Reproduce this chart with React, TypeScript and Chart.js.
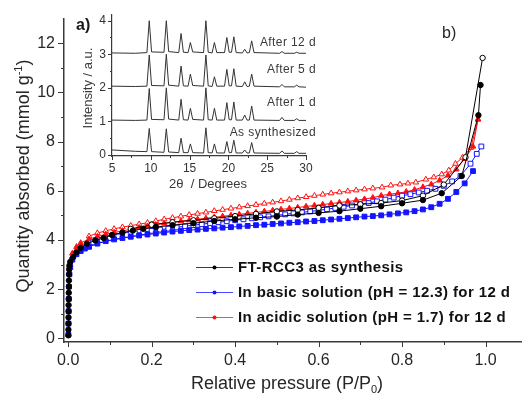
import React, { useEffect, useRef } from "react";
import { Chart, registerables } from "chart.js";
Chart.register(...registerables);

const W = 526;
const H = 394;
const FONT = "'Liberation Sans', Arial, sans-serif";

// ---------------- Main isotherm data ----------------
const blackAdsP = [0.0005, 0.0006, 0.0007, 0.0008, 0.0009, 0.001, 0.0012, 0.0014, 0.0016, 0.0018, 0.002, 0.0025, 0.003,
  0.005, 0.012, 0.02, 0.03, 0.045, 0.065, 0.085, 0.105, 0.13, 0.155, 0.18, 0.21, 0.25, 0.3, 0.35, 0.4, 0.45, 0.5,
  0.55, 0.6, 0.65, 0.7, 0.75, 0.8, 0.85, 0.895, 0.943, 0.983, 0.988];
const blackAdsQ = [0.12, 0.35, 0.6, 0.85, 1.1, 1.35, 1.6, 1.85, 2.1, 2.35, 2.6, 2.8, 2.95,
  3.1, 3.3, 3.5, 3.68, 3.85, 3.98, 4.08, 4.2, 4.3, 4.38, 4.45, 4.52, 4.6, 4.68, 4.77, 4.84, 4.9, 4.95,
  5.03, 5.1, 5.17, 5.27, 5.37, 5.49, 5.62, 5.9, 6.6, 9.07, 10.3];

const blackDesP = [0.993, 0.952, 0.9, 0.85, 0.8, 0.75, 0.7, 0.65, 0.6, 0.55, 0.5, 0.45, 0.4, 0.35, 0.3, 0.25, 0.2, 0.15];
const blackDesQ = [11.4, 7.36, 6.25, 5.8, 5.6, 5.5, 5.45, 5.4, 5.3, 5.22, 5.16, 5.06, 4.97, 4.88, 4.8, 4.72, 4.62, 4.45];

const blueAdsP = [0.0005, 0.0008, 0.0012, 0.0016, 0.002, 0.003, 0.005, 0.01, 0.02, 0.03, 0.04, 0.05,
  0.07, 0.09, 0.11, 0.13, 0.15, 0.17, 0.19, 0.21, 0.23, 0.25,
  0.27, 0.29, 0.31, 0.33, 0.35, 0.37, 0.39, 0.41, 0.43, 0.45,
  0.47, 0.49, 0.51, 0.53, 0.55, 0.57, 0.59, 0.61, 0.63, 0.65,
  0.67, 0.69, 0.71, 0.73, 0.75, 0.77, 0.79, 0.81, 0.83, 0.85,
  0.87, 0.89, 0.91, 0.93, 0.95, 0.97];
const blueAdsQ = [0.15, 0.6, 1.1, 1.6, 2.1, 2.6, 2.9, 3.2, 3.42, 3.55, 3.65, 3.72,
  3.85, 3.95, 4.02, 4.08, 4.13, 4.18, 4.22, 4.26, 4.3, 4.34,
  4.37, 4.4, 4.42, 4.45, 4.47, 4.5, 4.52, 4.55, 4.57, 4.6,
  4.62, 4.65, 4.67, 4.7, 4.72, 4.75, 4.77, 4.8, 4.83, 4.86,
  4.89, 4.92, 4.95, 4.97, 5.0, 5.04, 5.08, 5.12, 5.17, 5.24,
  5.33, 5.47, 5.67, 5.95, 6.3, 6.8];

const blueDesP = [0.99, 0.979, 0.964, 0.94,
  0.92, 0.9, 0.88, 0.86, 0.84, 0.82, 0.8, 0.78, 0.76, 0.74, 0.72, 0.7, 0.68, 0.66, 0.64, 0.62, 0.6,
  0.58, 0.56, 0.54, 0.52, 0.5, 0.48, 0.46, 0.44, 0.42, 0.4, 0.38, 0.36, 0.34, 0.32, 0.3,
  0.28, 0.26, 0.24, 0.22, 0.2, 0.18, 0.16, 0.14, 0.12, 0.1, 0.08, 0.06];
const blueDesQ = [7.8, 7.5, 7.1, 6.6,
  6.38, 6.2, 6.08, 6.0, 5.93, 5.86, 5.8, 5.72, 5.64, 5.57, 5.5, 5.45, 5.4, 5.35, 5.3, 5.25, 5.2,
  5.16, 5.12, 5.08, 5.04, 5.0, 4.96, 4.92, 4.88, 4.84, 4.8, 4.76, 4.72, 4.68, 4.64, 4.6,
  4.56, 4.51, 4.46, 4.42, 4.37, 4.32, 4.26, 4.2, 4.14, 4.07, 4.0, 3.9];

const redAdsP = [0.003, 0.006, 0.01, 0.02, 0.03, 0.05,
  0.07, 0.09, 0.11, 0.13, 0.15, 0.17, 0.19, 0.21, 0.23, 0.25,
  0.27, 0.29, 0.31, 0.33, 0.35, 0.37, 0.39, 0.41, 0.43, 0.45,
  0.47, 0.49, 0.51, 0.53, 0.55, 0.57, 0.59, 0.61, 0.63, 0.65,
  0.67, 0.69, 0.71, 0.73, 0.75, 0.77, 0.79, 0.81, 0.83, 0.85,
  0.87, 0.89, 0.91, 0.93, 0.95, 0.97, 0.982];
const redAdsQ = [2.9, 3.2, 3.45, 3.72, 3.88, 4.03,
  4.14, 4.23, 4.3, 4.37, 4.43, 4.5, 4.56, 4.62, 4.67, 4.72,
  4.76, 4.8, 4.84, 4.88, 4.92, 4.96, 5.0, 5.04, 5.08, 5.12,
  5.16, 5.2, 5.24, 5.28, 5.32, 5.36, 5.4, 5.44, 5.48, 5.52,
  5.56, 5.61, 5.66, 5.72, 5.8, 5.86, 5.9, 5.96, 6.04, 6.15,
  6.26, 6.42, 6.62, 6.87, 7.3, 7.8, 8.9];

const redDesP = [0.982, 0.965, 0.945, 0.928, 0.912, 0.895, 0.876, 0.857, 0.833, 0.814, 0.795, 0.773, 0.752,
  0.73, 0.71, 0.69, 0.67, 0.65, 0.63, 0.61, 0.59, 0.57, 0.55,
  0.53, 0.51, 0.49, 0.47, 0.45, 0.43, 0.41, 0.39, 0.37, 0.35,
  0.33, 0.31, 0.29, 0.27, 0.25, 0.23, 0.21, 0.19, 0.17, 0.15,
  0.13, 0.11, 0.09, 0.07, 0.05];
const redDesQ = [8.9, 7.75, 7.35, 7.1, 6.83, 6.67, 6.55, 6.46, 6.34, 6.3, 6.26, 6.22, 6.14,
  6.1, 6.06, 6.02, 5.98, 5.94, 5.9, 5.85, 5.8, 5.75, 5.7,
  5.64, 5.58, 5.53, 5.48, 5.43, 5.38, 5.33, 5.28, 5.23, 5.18,
  5.12, 5.07, 5.02, 4.96, 4.9, 4.84, 4.77, 4.7, 4.64, 4.58,
  4.52, 4.45, 4.37, 4.28, 4.15];

const seriesNames = [
  "FT-RCC3 as synthesis",
  "In basic solution (pH = 12.3) for 12 d",
  "In acidic solution (pH = 1.7) for 12 d",
];
const xTicks = [0, 0.2, 0.4, 0.6, 0.8, 1.0];
const xMinor = [0.1, 0.3, 0.5, 0.7, 0.9];
const yTicks = [0, 2, 4, 6, 8, 10, 12];
const yMinor = [1, 3, 5, 7, 9, 11];

// ---------------- Inset XRD data ----------------
const twoTheta = [5, 8, 9.5, 9.8, 10.1, 11.7, 12.0, 12.3, 13.6, 13.9, 14.2, 14.8, 15.1, 15.4, 16.8, 17.1, 17.4,
  17.9, 18.2, 18.5, 19.5, 19.8, 20.1, 20.4, 20.7, 21.0, 21.8, 22.1, 22.4, 22.7, 23.0, 23.3,
  26.6, 26.9, 27.2, 28.5, 28.8, 29.1, 30];
const xrdAfter12d = [3.04, 3.03, 3.05, 4.0, 3.07, 3.06, 4.0, 3.08, 3.05, 3.62, 3.06, 3.05, 3.35, 3.07, 3.05, 4.0, 3.06,
  3.04, 3.35, 3.05, 3.05, 3.5, 3.06, 3.06, 3.52, 3.05, 3.04, 3.15, 3.04, 3.05, 3.4, 3.05,
  3.03, 3.08, 3.03, 3.03, 3.06, 3.03, 3.03];
const xrdAfter5d = [2.05, 2.04, 2.05, 2.98, 2.07, 2.06, 3.0, 2.08, 2.05, 2.65, 2.06, 2.05, 2.41, 2.07, 2.05, 2.98, 2.06,
  2.04, 2.33, 2.05, 2.05, 2.55, 2.06, 2.06, 2.57, 2.05, 2.04, 2.18, 2.04, 2.05, 2.41, 2.05,
  2.03, 2.1, 2.03, 2.03, 2.08, 2.03, 2.02];
const xrdAfter1d = [1.04, 1.03, 1.04, 1.98, 1.06, 1.05, 2.0, 1.07, 1.04, 1.66, 1.05, 1.04, 1.39, 1.06, 1.04, 2.0, 1.05,
  1.04, 1.39, 1.04, 1.04, 1.56, 1.05, 1.05, 1.58, 1.04, 1.04, 1.19, 1.04, 1.04, 1.46, 1.04,
  1.03, 1.12, 1.03, 1.03, 1.08, 1.03, 1.03];
const xrdAsSynth = [0.15, 0.11, 0.1, 0.79, 0.1, 0.08, 0.78, 0.09, 0.07, 0.5, 0.07, 0.07, 0.33, 0.07, 0.06, 0.81, 0.07,
  0.06, 0.33, 0.06, 0.06, 0.4, 0.07, 0.07, 0.44, 0.06, 0.06, 0.15, 0.06, 0.06, 0.37, 0.06,
  0.05, 0.12, 0.05, 0.05, 0.1, 0.05, 0.05];
const insetNames = ["As synthesized", "After 1 d", "After 5 d", "After 12 d"];
const insetXTicks = [5, 10, 15, 20, 25, 30];
const insetXMinor = [7.5, 12.5, 17.5, 22.5, 27.5];
const insetYTicks = [0, 1, 2, 3, 4];
const insetYMinor = [0.5, 1.5, 2.5, 3.5];

const BLACK = "#000000";
const BLUE = "#1414ff";
const RED = "#ff1010";
const AXIS = "#3a3a3a";
const TEXT = "#262626";

const zip = (xs: number[], ys: number[]) => xs.map((x, i) => ({ x, y: ys[i] }));

function series(data: any[], color: string, style: string, filled: boolean, radius: number) {
  return {
    data,
    showLine: true,
    borderColor: color,
    backgroundColor: color,
    borderWidth: 1,
    pointStyle: style,
    pointRadius: radius,
    pointBorderWidth: 1,
    pointBorderColor: color,
    pointBackgroundColor: filled ? color : "#ffffff",
    tension: 0,
  };
}

const mainDeco = {
  id: "mainDeco",
  afterDraw(chart: any) {
    const { ctx, chartArea: a, scales } = chart;
    const x = scales.x;
    const y = scales.y;
    ctx.save();
    ctx.strokeStyle = AXIS;
    ctx.lineWidth = 1;
    ctx.beginPath();
    for (const v of xTicks) {
      const p = Math.round(x.getPixelForValue(v)) + 0.5;
      ctx.moveTo(p, a.bottom); ctx.lineTo(p, a.bottom + 5);
    }
    for (const v of xMinor) {
      const p = Math.round(x.getPixelForValue(v)) + 0.5;
      ctx.moveTo(p, a.bottom); ctx.lineTo(p, a.bottom + 3);
    }
    for (const v of yTicks) {
      const p = Math.round(y.getPixelForValue(v)) + 0.5;
      ctx.moveTo(a.left, p); ctx.lineTo(a.left - 6, p);
    }
    for (const v of yMinor) {
      const p = Math.round(y.getPixelForValue(v)) + 0.5;
      ctx.moveTo(a.left, p); ctx.lineTo(a.left - 3, p);
    }
    ctx.stroke();

    ctx.fillStyle = TEXT;
    ctx.textBaseline = "alphabetic";
    // X title with subscript
    ctx.font = `18px ${FONT}`;
    const t1 = "Relative pressure (P/P";
    const t3 = ")";
    const w1 = ctx.measureText(t1).width;
    const w3 = ctx.measureText(t3).width;
    ctx.font = `11px ${FONT}`;
    const w2 = ctx.measureText("0").width;
    let sx = 287 - (w1 + w2 + w3) / 2;
    const by = 389;
    ctx.font = `18px ${FONT}`;
    ctx.textAlign = "left";
    ctx.fillText(t1, sx, by);
    ctx.font = `11px ${FONT}`;
    ctx.fillText("0", sx + w1, by + 4);
    ctx.font = `18px ${FONT}`;
    ctx.fillText(t3, sx + w1 + w2, by);

    // Y title with superscript
    ctx.save();
    ctx.translate(23, 176);
    ctx.rotate(-Math.PI / 2);
    ctx.font = `18px ${FONT}`;
    const y1 = "Quantity absorbed (mmol g";
    const y3 = ")";
    const yw1 = ctx.measureText(y1).width;
    const yw3 = ctx.measureText(y3).width;
    ctx.font = `11px ${FONT}`;
    const yw2 = ctx.measureText("-1").width;
    const ys = -(yw1 + yw2 + yw3) / 2;
    ctx.font = `18px ${FONT}`;
    ctx.fillText(y1, ys, 6);
    ctx.font = `11px ${FONT}`;
    ctx.fillText("-1", ys + yw1, -1);
    ctx.font = `18px ${FONT}`;
    ctx.fillText(y3, ys + yw1 + yw2, 6);
    ctx.restore();

    // b)
    ctx.font = `16px ${FONT}`;
    ctx.fillText("b)", 442, 38);

    // legend
    const legColors = ["#3c3c3c", "#4a4aff", "#ff4a4a"];
    const dotColors = [BLACK, BLUE, RED];
    const legY = [267, 292, 317];
    ctx.font = `bold 15px ${FONT}`;
    (ctx as any).letterSpacing = "0.4px";
    ctx.textBaseline = "middle";
    for (let i = 0; i < 3; i++) {
      ctx.strokeStyle = legColors[i];
      ctx.lineWidth = 1.2;
      ctx.beginPath();
      ctx.moveTo(196, legY[i] + 0.5);
      ctx.lineTo(233, legY[i] + 0.5);
      ctx.stroke();
      ctx.fillStyle = dotColors[i];
      ctx.beginPath();
      ctx.arc(214.5, legY[i] + 0.5, 2, 0, Math.PI * 2);
      ctx.fill();
      ctx.fillStyle = "#111";
      ctx.fillText(seriesNames[i], 238, legY[i] + 1);
    }
    (ctx as any).letterSpacing = "0px";
    ctx.restore();
  },
};

const insetDeco = {
  id: "insetDeco",
  afterDraw(chart: any) {
    const { ctx, chartArea: a, scales } = chart;
    const x = scales.x;
    const y = scales.y;
    ctx.save();
    ctx.strokeStyle = AXIS;
    ctx.lineWidth = 1;
    ctx.beginPath();
    for (const v of insetXTicks) {
      const p = Math.round(x.getPixelForValue(v)) + 0.5;
      ctx.moveTo(p, a.bottom); ctx.lineTo(p, a.bottom + 4);
    }
    for (const v of insetXMinor) {
      const p = Math.round(x.getPixelForValue(v)) + 0.5;
      ctx.moveTo(p, a.bottom); ctx.lineTo(p, a.bottom + 2);
    }
    for (const v of insetYTicks) {
      const p = Math.round(y.getPixelForValue(v)) + 0.5;
      ctx.moveTo(a.left, p); ctx.lineTo(a.left - 4, p);
    }
    for (const v of insetYMinor) {
      const p = Math.round(y.getPixelForValue(v)) + 0.5;
      ctx.moveTo(a.left, p); ctx.lineTo(a.left - 2, p);
    }
    ctx.stroke();

    ctx.fillStyle = "#3a3a3a";
    ctx.font = `13px ${FONT}`;
    ctx.textAlign = "center";
    ctx.textBaseline = "middle";
    ctx.fillText("2\u03B8  / Degrees", 208, 184);
    ctx.save();
    ctx.translate(88, 88);
    ctx.rotate(-Math.PI / 2);
    ctx.fillText("Intensity / a.u.", 0, 0);
    ctx.restore();

    ctx.font = `12px ${FONT}`;
    (ctx as any).letterSpacing = "0.4px";
    ctx.textAlign = "right";
    const labY = [133, 103, 70, 43];
    for (let i = 0; i < 4; i++) ctx.fillText(insetNames[i], 316, labY[i]);
    (ctx as any).letterSpacing = "0px";

    ctx.fillStyle = "#1a1a1a";
    ctx.font = `bold 16px ${FONT}`;
    ctx.textAlign = "left";
    ctx.fillText("a)", 76, 26);
    ctx.restore();
  },
};

function mainConfig(): any {
  return {
    type: "scatter",
    data: {
      datasets: [
        series(zip(blackAdsP, blackAdsQ), BLACK, "circle", true, 2.7),
        series(zip(blackDesP, blackDesQ), BLACK, "circle", false, 2.7),
        series(zip(blueAdsP, blueAdsQ), BLUE, "rect", true, 3.4),
        series(zip(blueDesP, blueDesQ), BLUE, "rect", false, 3.4),
        series(zip(redAdsP, redAdsQ), RED, "triangle", true, 3.2),
        series(zip(redDesP, redDesQ), RED, "triangle", false, 3.2),
      ],
    },
    options: {
      animation: false,
      responsive: false,
      maintainAspectRatio: false,
      layout: { padding: { left: 0, right: 4, top: 18, bottom: 0 } },
      plugins: { legend: { display: false }, tooltip: { enabled: false } },
      scales: {
        x: {
          type: "linear",
          min: -0.01,
          max: 1.085,
          afterBuildTicks: (s: any) => { s.ticks = xTicks.map((v) => ({ value: v })); },
          afterFit: (s: any) => { s.height = 52; },
          grid: { display: false, drawTicks: false },
          border: { display: true, color: AXIS, width: 1.5 },
          ticks: {
            autoSkip: false,
            maxRotation: 0,
            padding: 9,
            color: TEXT,
            font: { family: FONT, size: 16 },
            callback: (v: any) => Number(v).toFixed(1),
          },
        },
        y: {
          type: "linear",
          min: -0.15,
          max: 13,
          afterBuildTicks: (s: any) => { s.ticks = yTicks.map((v) => ({ value: v })); },
          afterFit: (s: any) => { s.width = 64; },
          grid: { display: false, drawTicks: false },
          border: { display: true, color: AXIS, width: 1.5 },
          ticks: {
            autoSkip: false,
            padding: 9,
            color: TEXT,
            font: { family: FONT, size: 16 },
            callback: (v: any) => String(v),
          },
        },
      },
    },
    plugins: [mainDeco],
  };
}

function insetConfig(): any {
  const line = (ys: number[]) => ({
    data: zip(twoTheta, ys),
    showLine: true,
    borderColor: "#333333",
    borderWidth: 1,
    pointRadius: 0,
    tension: 0,
  });
  return {
    type: "scatter",
    data: {
      datasets: [line(xrdAsSynth), line(xrdAfter1d), line(xrdAfter5d), line(xrdAfter12d)],
    },
    options: {
      animation: false,
      responsive: false,
      maintainAspectRatio: false,
      layout: { padding: { left: 0, right: 220, top: 15, bottom: 0 } },
      plugins: { legend: { display: false }, tooltip: { enabled: false } },
      scales: {
        x: {
          type: "linear",
          min: 5,
          max: 30,
          afterBuildTicks: (s: any) => { s.ticks = insetXTicks.map((v) => ({ value: v })); },
          afterFit: (s: any) => { s.height = 238; },
          grid: { display: false, drawTicks: false },
          border: { display: true, color: AXIS, width: 1.2 },
          ticks: {
            autoSkip: false,
            maxRotation: 0,
            padding: 5,
            color: "#333",
            font: { family: FONT, size: 12 },
            callback: (v: any) => String(v),
          },
        },
        y: {
          type: "linear",
          min: -0.03,
          max: 4.17,
          afterBuildTicks: (s: any) => { s.ticks = insetYTicks.map((v) => ({ value: v })); },
          afterFit: (s: any) => { s.width = 112; },
          grid: { display: false, drawTicks: false },
          border: { display: true, color: AXIS, width: 1.2 },
          ticks: {
            autoSkip: false,
            padding: 6,
            color: "#333",
            font: { family: FONT, size: 12 },
            callback: (v: any) => String(v),
          },
        },
      },
    },
    plugins: [insetDeco],
  };
}

export default function App() {
  const mainRef = useRef<HTMLCanvasElement>(null);
  const insetRef = useRef<HTMLCanvasElement>(null);
  useEffect(() => {
    const c1 = new Chart(mainRef.current as HTMLCanvasElement, mainConfig());
    const c2 = new Chart(insetRef.current as HTMLCanvasElement, insetConfig());
    return () => {
      c1.destroy();
      c2.destroy();
    };
  }, []);
  const cs: React.CSSProperties = { position: "absolute", left: 0, top: 0, width: W, height: H };
  return (
    <div style={{ position: "fixed", left: 0, top: 0, width: W, height: H, background: "#fff" }}>
      <canvas ref={mainRef} width={W} height={H} style={cs} />
      <canvas ref={insetRef} width={W} height={H} style={cs} />
    </div>
  );
}
